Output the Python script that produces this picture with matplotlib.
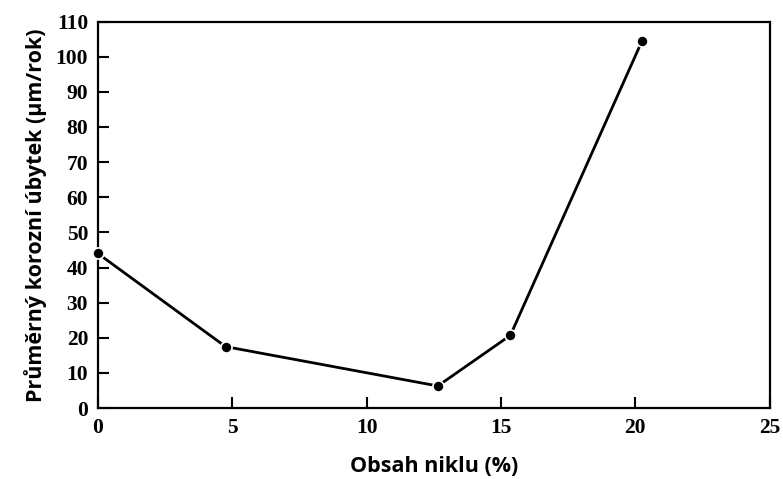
import matplotlib.pyplot as plt

# obsah niklu (%) a prumerny korozni ubytek (um/rok)
nickel = [0.0, 4.75, 12.65, 15.35, 20.25]
loss = [44.0, 17.5, 6.3, 20.7, 104.5]

x_ticks = [0, 5, 10, 15, 20, 25]
y_ticks = list(range(0, 111, 10))

fig = plt.figure(figsize=(7.83, 4.79), dpi=100)
ax = fig.add_axes([0.125, 0.148, 0.858, 0.807])

ax.plot(nickel, loss, color='black', linewidth=2.0, marker='o', markersize=8,
        markerfacecolor='black', markeredgecolor='white', markeredgewidth=1.2,
        clip_on=False, zorder=3)

ax.set_xlim(0, 25)
ax.set_ylim(0, 110)
ax.set_xticks(x_ticks)
ax.set_yticks(y_ticks)
ax.tick_params(direction='in', length=8, width=1.5, colors='black',
               labelsize=15.5, pad=7)
for lab in ax.get_xticklabels() + ax.get_yticklabels():
    lab.set_family('Liberation Serif')
    lab.set_fontweight('bold')

for s in ax.spines.values():
    s.set_linewidth(1.6)
    s.set_color('black')

ax.set_xlabel('Obsah niklu (%)', fontsize=15.5, family='Open Sans',
              fontweight='bold', labelpad=13)
ax.set_ylabel('Průměrný korozní úbytek (µm/rok)', fontsize=15.5,
              family='Open Sans', fontweight='bold', labelpad=6)

fig.savefig('out.png', dpi=100)
